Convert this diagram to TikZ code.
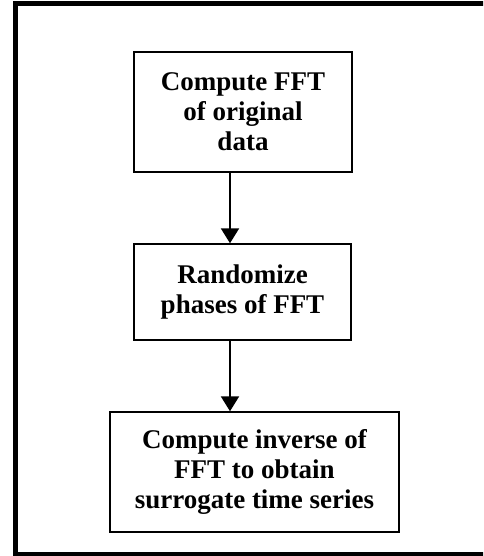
\documentclass[tikz,border=0pt]{standalone}
\usepackage{fontspec}
\setmainfont{Liberation Serif}
\usetikzlibrary{arrows.meta}
\begin{document}
\begin{tikzpicture}[x=1pt,y=-1pt,
  stepbox/.style={draw=black,line width=1.4pt,fill=white,align=center,inner sep=0pt,
    font=\fontsize{27}{30}\selectfont\bfseries},
  flow/.style={line width=2pt,-{Triangle[length=15pt,width=18pt]}}]
\useasboundingbox (0,0) rectangle (483,556);
\begin{scope}
\clip (0,0) rectangle (483,556);
\draw[line width=5pt] (500,4) -- (15,4) -- (15,554) -- (500,554);
\end{scope}
\node[stepbox,minimum width=218pt,minimum height=120pt] (b1) at (243,112)
  {Compute FFT\\of original\\data};
\node[stepbox,minimum width=217pt,minimum height=96pt] (b2) at (242.5,292)
  {Randomize\\phases of FFT};
\node[stepbox,minimum width=289pt,minimum height=120pt] (b3) at (254.5,472)
  {Compute inverse of\\FFT to obtain\\surrogate time series};
\coordinate (ax) at (230,0);
\draw[flow] (b1.south -| ax) -- (b2.north -| ax);
\draw[flow] (b2.south -| ax) -- (b3.north -| ax);
\end{tikzpicture}
\end{document}
